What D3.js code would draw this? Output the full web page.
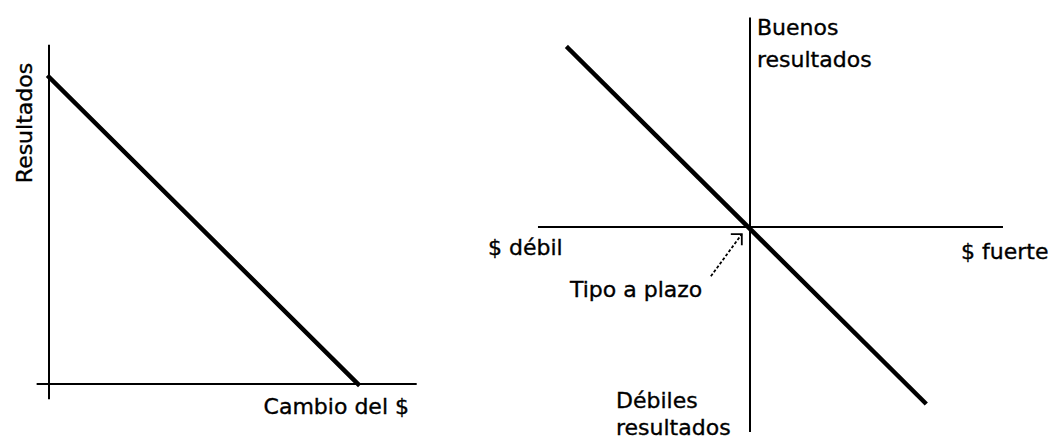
<!DOCTYPE html>
<html>
<head>
<meta charset="utf-8">
<style>
  body { margin: 0; background: #fff; }
  svg text { font-family: "DejaVu Sans", sans-serif; font-size: 22px; fill: #000; stroke: #000; stroke-width: 0.35; }
  .axis { stroke: #000; stroke-width: 2; fill: none; }
  .curve { stroke: #000; stroke-width: 4.5; fill: none; stroke-linecap: square; }
</style>
</head>
<body>
<script src="https://cdn.jsdelivr.net/npm/d3@7/dist/d3.min.js"></script>
<script>
// left panel: results vs. dollar exchange (units are arbitrary)
const leftCurve = [[0, 10], [10, 0]];
const leftXAxis = [-0.4, 11.9];
const leftYAxis = [-0.5, 11.05];
const leftLabels = ["Resultados", "Cambio del $"];

// right panel: strong/weak dollar around forward rate
const rightCurve = [[-10, 10], [9.6, -9.8]];
const rightXAxis = [-11.65, 13.9];
const rightYAxis = [-11.45, 11.7];
const rightLabels = ["Buenos", "resultados", "$ débil", "$ fuerte", "Tipo a plazo", "Débiles", "resultados"];
const arrowFrom = [-2.15, -2.75];
const arrowTo = [-0.45, -0.4];

const svg = d3.select("body").append("svg")
    .attr("width", 1058)
    .attr("height", 441);

// ---- left panel
const xL = d3.scaleLinear().domain([0, 10]).range([49, 358]);
const yL = d3.scaleLinear().domain([0, 10]).range([384, 77]);

const left = svg.append("g");

left.append("line").attr("class", "axis")
    .attr("x1", xL(leftXAxis[0])).attr("x2", xL(leftXAxis[1]))
    .attr("y1", yL(0)).attr("y2", yL(0));
left.append("line").attr("class", "axis")
    .attr("x1", xL(0)).attr("x2", xL(0))
    .attr("y1", yL(leftYAxis[0])).attr("y2", yL(leftYAxis[1]));

left.append("path")
    .datum(leftCurve)
    .attr("class", "curve")
    .attr("d", d3.line().x(d => xL(d[0])).y(d => yL(d[1])));

left.append("text")
    .attr("transform", "translate(32,123) rotate(-90)")
    .attr("text-anchor", "middle")
    .text(leftLabels[0]);
left.append("text")
    .attr("x", 409).attr("y", 414)
    .attr("text-anchor", "end")
    .text(leftLabels[1]);

// ---- right panel
const xR = d3.scaleLinear().domain([-10, 10]).range([568, 932]);
const yR = d3.scaleLinear().domain([-10, 10]).range([406, 48]);

const right = svg.append("g");

right.append("line").attr("class", "axis")
    .attr("x1", xR(rightXAxis[0])).attr("x2", xR(rightXAxis[1]))
    .attr("y1", yR(0)).attr("y2", yR(0));
right.append("line").attr("class", "axis")
    .attr("x1", xR(0)).attr("x2", xR(0))
    .attr("y1", yR(rightYAxis[0])).attr("y2", yR(rightYAxis[1]));

right.append("path")
    .datum(rightCurve)
    .attr("class", "curve")
    .attr("d", d3.line().x(d => xR(d[0])).y(d => yR(d[1])));

// dotted pointer to the forward rate
const ax1 = xR(arrowFrom[0]), ay1 = yR(arrowFrom[1]);
const ax2 = xR(arrowTo[0]), ay2 = yR(arrowTo[1]);
right.append("line")
    .attr("x1", ax1).attr("y1", ay1).attr("x2", ax2).attr("y2", ay2)
    .attr("stroke", "#000").attr("stroke-width", 1.8)
    .attr("stroke-dasharray", "3,2");
right.append("path")
    .attr("d", `M${ax2 - 11},${ay2} L${ax2},${ay2} L${ax2},${ay2 + 11}`)
    .attr("stroke", "#000").attr("stroke-width", 1.8).attr("fill", "none");

const lab = [
  {t: rightLabels[0], x: 757, y: 35, a: "start"},
  {t: rightLabels[1], x: 757, y: 67, a: "start"},
  {t: rightLabels[2], x: 488, y: 255, a: "start"},
  {t: rightLabels[3], x: 961, y: 259, a: "start"},
  {t: rightLabels[4], x: 570, y: 297, a: "start"},
  {t: rightLabels[5], x: 616, y: 408, a: "start"},
  {t: rightLabels[6], x: 616, y: 435, a: "start"}
];
right.selectAll("text.lab").data(lab).enter()
    .append("text")
    .attr("class", "lab")
    .attr("x", d => d.x).attr("y", d => d.y)
    .attr("text-anchor", d => d.a)
    .text(d => d.t);
</script>
</body>
</html>
